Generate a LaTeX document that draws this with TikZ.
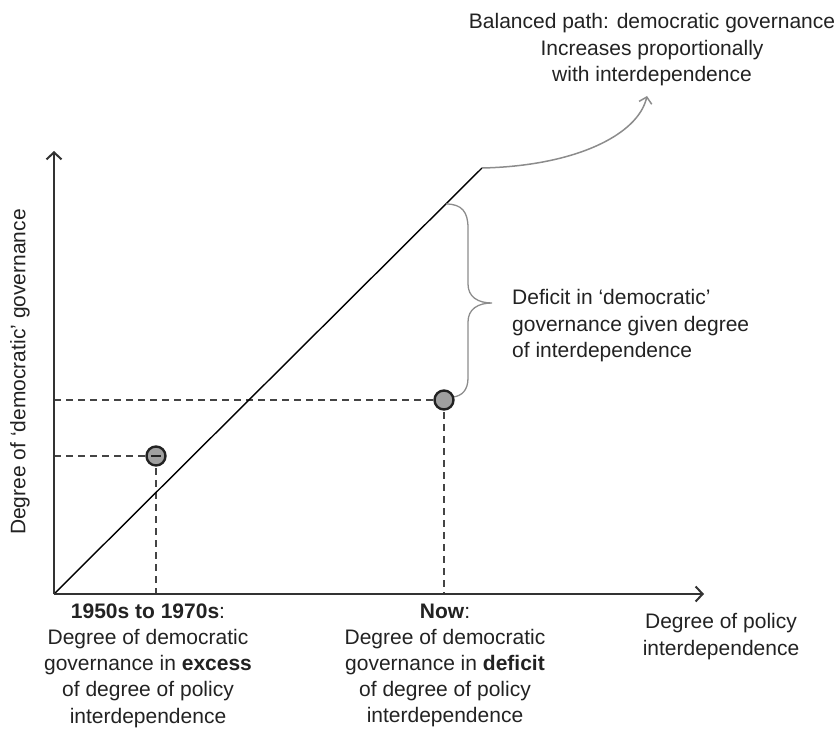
\documentclass[tikz,border=0pt]{standalone}
\usepackage{fontspec}
\setmainfont{Liberation Sans}
\usetikzlibrary{arrows.meta}
\definecolor{ink}{HTML}{222222}
\definecolor{axisc}{HTML}{333333}
\definecolor{dashc}{HTML}{444444}
\definecolor{brc}{HTML}{8C8C8C}
\definecolor{dotfill}{HTML}{A0A0A0}
\begin{document}
\begin{tikzpicture}[x=1pt,y=-1pt,
  lbl/.style={text=ink,inner sep=0pt,font=\fontsize{21}{26.2}\selectfont},
  axisline/.style={draw=axisc,line width=2.6pt,-{Straight Barb[length=7pt,width=15pt,line width=2pt]}},
  diag/.style={draw=black,line width=1.4pt},
  dashline/.style={draw=dashc,line width=1.9pt,dash pattern=on 7pt off 5pt},
  dot/.style={circle,draw=ink,line width=2.4pt,fill=dotfill,minimum size=19pt,inner sep=0pt},
  graycurve/.style={draw=brc,line width=1.5pt},
]
\useasboundingbox (0,0) rectangle (838,733);
\coordinate (O) at (54,594);
\coordinate (Ytop) at (54,151);
\coordinate (Xend) at (704,594);
\coordinate (K) at (482,168);
\coordinate (Atip) at (647,96);
\coordinate (Y1) at (54,456);
\coordinate (Y2) at (54,400);
\coordinate (X1) at (156,594);
\coordinate (X2) at (444,594);
\coordinate (Btop) at (446,204);
\coordinate (Bbot) at (453,397);

% dashed guides
\draw[dashline] (Y2) -- (444,400);
\draw[dashline] (Y1) -- (156,456);
\draw[dashline] (156,456) -- (X1);
\draw[dashline] (444,400) -- (X2);

% diagonal
\draw[diag] (O) -- (K);

% axes
\draw[axisline] (O) -- (Ytop);
\draw[axisline] (O) -- (Xend);

% gray curved arrow
\draw[graycurve,-{Straight Barb[length=6pt,width=13pt,line width=1.5pt]}] (K) .. controls (575,166) and (638,135) .. (Atip);

% brace
\draw[graycurve,line width=1.3pt] (Btop) .. controls (462,204) and (468,212) .. (468,228) -- (468,284)
  .. controls (468,297) and (478,303) .. (492,303)
  .. controls (478,303) and (468,309) .. (468,322) -- (468,378)
  .. controls (468,390) and (462,396) .. (Bbot);

% dots
\node[dot] (D1) at (156,456) {};
\node[dot] (D2) at (444,400) {};
\draw[ink,line width=1.3pt] (151,456) -- (161,456);

% labels
\node[lbl,align=center,anchor=north] (top) at (652,13.5) {Balanced path: democratic governance\\Increases proportionally\\with interdependence};
\node[lbl,align=left,anchor=north west] (def) at (512,289.5) {Deficit in ‘democratic’\\governance given degree\\of interdependence};
\node[lbl,rotate=90] (ylab) at (20,372) {Degree of ‘democratic’ governance};
\node[lbl,align=center,anchor=north] (xlab) at (721,613.5) {Degree of policy\\interdependence};
\node[lbl,align=center,anchor=north] (L1) at (148,603.5) {\textbf{1950s to 1970s}:\\Degree of democratic\\governance in \textbf{excess}\\of degree of policy\\interdependence};
\node[lbl,align=center,anchor=north] (L2) at (445,603.5) {\textbf{Now}:\\Degree of democratic\\governance in \textbf{deficit}\\of degree of policy\\interdependence};
\end{tikzpicture}
\end{document}
